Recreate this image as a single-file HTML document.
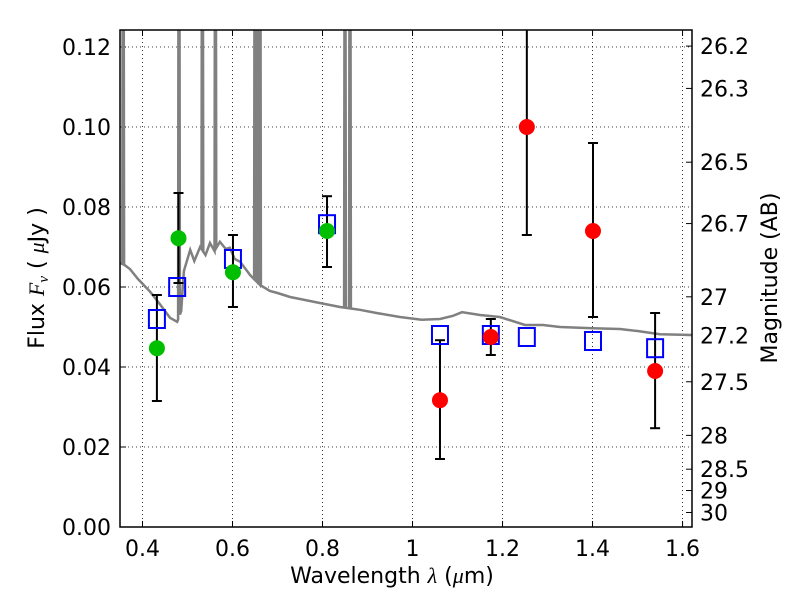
<!DOCTYPE html>
<html><head><meta charset="utf-8"><style>
body{margin:0;background:#fff;font-family:"Liberation Sans","DejaVu Sans",sans-serif}
svg text{font-family:"DejaVu Sans","Liberation Sans",sans-serif;font-size:22px;fill:#000}
</style></head><body>
<svg id="chart" width="800" height="600" xmlns="http://www.w3.org/2000/svg"></svg>
<script>
const xTicks=[0.4,0.6,0.8,1.0,1.2,1.4,1.6];
const xTickLabels=["0.4","0.6","0.8","1","1.2","1.4","1.6"];
const yTicks=[0,0.02,0.04,0.06,0.08,0.10,0.12];
const yTickLabels=["0.00","0.02","0.04","0.06","0.08","0.10","0.12"];
const magTicks=[26.2,26.3,26.5,26.7,27,27.2,27.5,28,28.5,29,30];
const magLabels=["26.2","26.3","26.5","26.7","27","27.2","27.5","28","28.5","29","30"];
const specLam=[0.35,0.36,0.372,0.39,0.417,0.44,0.461,0.477,0.486,0.492,0.506,0.515,0.528,0.54,0.55,0.56,0.572,0.585,0.594,0.605,0.617,0.639,0.661,0.683,0.70,0.728,0.75,0.794,0.839,0.883,0.92,0.972,1.02,1.061,1.09,1.11,1.15,1.194,1.25,1.29,1.328,1.40,1.461,1.50,1.55,1.621];
const specFlux=[0.066,0.0655,0.0645,0.062,0.0588,0.0555,0.0523,0.0513,0.054,0.064,0.0693,0.0665,0.070,0.068,0.071,0.069,0.0713,0.0695,0.0698,0.067,0.0663,0.063,0.0605,0.059,0.0585,0.0575,0.057,0.056,0.055,0.0543,0.0535,0.0525,0.0518,0.052,0.0528,0.0537,0.053,0.0525,0.0505,0.0505,0.050,0.0497,0.0495,0.049,0.0482,0.048];
const lineLam=[0.357,0.481,0.533,0.562,0.650,0.655,0.661,0.850,0.861];
const modelLam=[0.432,0.477,0.601,0.81,1.061,1.174,1.254,1.401,1.539];
const modelFlux=[0.052,0.060,0.067,0.0757,0.048,0.048,0.0475,0.0465,0.0447];
const greenLam=[0.432,0.48,0.601,0.81];
const greenFlux=[0.0447,0.0722,0.0637,0.074];
const greenLo=[0.0315,0.061,0.055,0.065];
const greenHi=[0.058,0.0835,0.073,0.0827];
const redLam=[1.061,1.174,1.254,1.401,1.539];
const redFlux=[0.0317,0.0475,0.100,0.074,0.039];
const redLo=[0.017,0.043,0.073,0.0525,0.0247];
const redHi=[0.0467,0.052,0.13,0.096,0.0535];

const L=120,R=692,T=30,B=527,x0=0.35,x1=1.621,y0=0,y1=0.12425;
const X=v=>L+(v-x0)/(x1-x0)*(R-L);
const Y=v=>B-(v-y0)/(y1-y0)*(B-T);
const magY=m=>Y(Math.pow(10,(23.9-m)/2.5));
const svg=document.getElementById('chart');
const NS="http://www.w3.org/2000/svg";
function el(t,a,p){const e=document.createElementNS(NS,t);for(const k in a)e.setAttribute(k,a[k]);(p||svg).appendChild(e);return e;}
const defs=el('defs',{});const cp=el('clipPath',{id:'c'},defs);el('rect',{x:L,y:T,width:R-L,height:B-T},cp);
const grid=el('g',{});


xTicks.forEach((v,i)=>{
  el('line',{x1:X(v),x2:X(v),y1:T,y2:B,stroke:'#000','stroke-width':0.8,'stroke-dasharray':'1,3'},grid);
  el('line',{x1:X(v),x2:X(v),y1:B,y2:B-6,stroke:'#000'},grid);
  el('line',{x1:X(v),x2:X(v),y1:T,y2:T+6,stroke:'#000'},grid);
  const t=el('text',{x:X(v),y:B+29,'text-anchor':'middle'});t.textContent=xTickLabels[i];
  
  
});
yTicks.forEach((v,i)=>{
  el('line',{x1:L,x2:R,y1:Y(v),y2:Y(v),stroke:'#000','stroke-width':0.8,'stroke-dasharray':'1,3'},grid);
  el('line',{x1:L,x2:L+6,y1:Y(v),y2:Y(v),stroke:'#000'},grid);
  const t=el('text',{x:L-9,y:Y(v)+8,'text-anchor':'end'});t.textContent=yTickLabels[i];
  
  
});
magTicks.forEach((m,i)=>{
  el('line',{x1:R,x2:R-6,y1:magY(m),y2:magY(m),stroke:'#000'});
  const t=el('text',{x:R+8,y:magY(m)+8});t.textContent=magLabels[i];
  
  
});
const g=el('g',{'clip-path':'url(#c)'});
let pts=specLam.map((l,i)=>[l,specFlux[i]]);
function interp(l){for(let i=1;i<specLam.length;i++)if(l<=specLam[i]){const t=(l-specLam[i-1])/(specLam[i]-specLam[i-1]);return specFlux[i-1]+t*(specFlux[i]-specFlux[i-1]);}return specFlux[specFlux.length-1];}
lineLam.forEach(l=>{pts.push([l-0.002,interp(l-0.002)]);pts.push([l-0.0005,0.2]);pts.push([l+0.0005,0.2]);pts.push([l+0.002,interp(l+0.002)]);});
pts.sort((a,b)=>a[0]-b[0]);
const sp=el('path',{d:'M'+pts.map(p=>X(p[0]).toFixed(1)+','+Y(p[1]).toFixed(1)).join('L'),fill:'none',stroke:'#808080','stroke-width':2.5},g);


function err(l,lo,hi,name){const e=el('g',{stroke:'#000','stroke-width':2},g);
  
  
  el('line',{x1:X(l),x2:X(l),y1:Y(lo),y2:Y(hi)},e);
  el('line',{x1:X(l)-5,x2:X(l)+5,y1:Y(lo),y2:Y(lo)},e);
  el('line',{x1:X(l)-5,x2:X(l)+5,y1:Y(hi),y2:Y(hi)},e);}
greenLam.forEach((l,i)=>err(l,greenLo[i],greenHi[i],'green-error-bar'));
redLam.forEach((l,i)=>err(l,redLo[i],redHi[i],'red-error-bar'));
modelLam.forEach((l,i)=>{const r=el('rect',{x:X(l)-8,y:Y(modelFlux[i])-9,width:16,height:18,fill:'none',stroke:'#0000ff','stroke-width':2},g);
  
  });
greenLam.forEach((l,i)=>{const c=el('circle',{cx:X(l),cy:Y(greenFlux[i]),r:8,fill:'#00bf00'},g);
  
  });
redLam.forEach((l,i)=>{const c=el('circle',{cx:X(l),cy:Y(redFlux[i]),r:8,fill:'#ff0000'},g);
  
  });
const fr=el('rect',{x:L,y:T,width:R-L,height:B-T,fill:'none',stroke:'#000','stroke-width':1.5});


const xt=el('text',{x:392,y:583,'text-anchor':'middle'});xt.innerHTML='Wavelength  <tspan font-style="italic" font-family="Liberation Serif">λ</tspan> (<tspan font-style="italic" font-family="Liberation Serif">μ</tspan>m)';


const yt=el('text',{x:44,y:278,'text-anchor':'middle',transform:'rotate(-90 44 278)','xml:space':'preserve'});yt.innerHTML='Flux  <tspan font-style="italic" font-family="Liberation Serif">F</tspan><tspan font-style="italic" font-size="15" dy="4" font-family="Liberation Serif">ν</tspan><tspan dy="-4">  (  </tspan><tspan font-style="italic" font-family="Liberation Serif">μ</tspan>Jy )';


const rt=el('text',{x:777,y:278,'text-anchor':'middle',transform:'rotate(-90 777 278)'});rt.textContent='Magnitude (AB)';


</script>
</body></html>
